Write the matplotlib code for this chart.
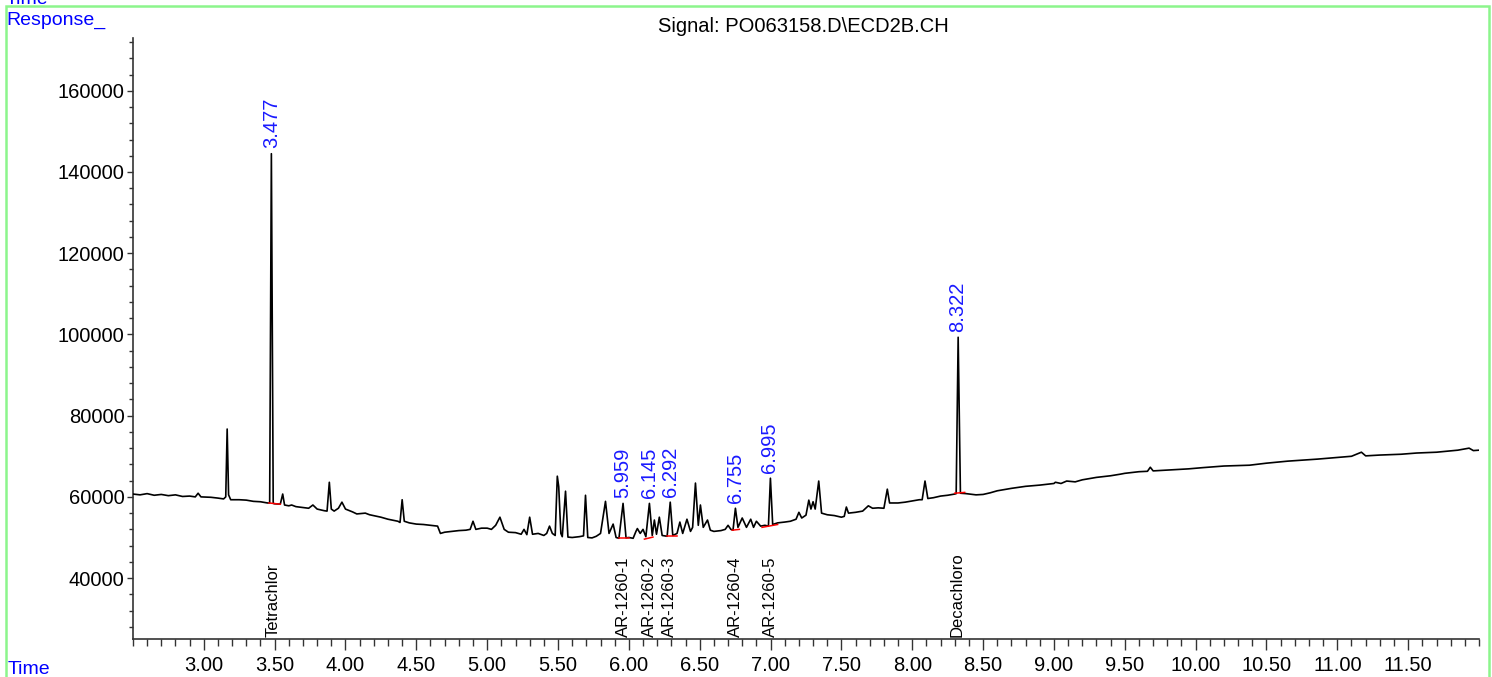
"""
Chromatogram: Signal PO063158.D\\ECD2B.CH with integrated peaks and compound labels.
"""
import matplotlib
matplotlib.use("Agg")
import matplotlib.pyplot as plt
from matplotlib.patches import Rectangle
from matplotlib.ticker import MultipleLocator, FormatStrFormatter
import matplotlib.transforms as mtransforms

plt.rcParams["font.family"] = ["Liberation Sans", "DejaVu Sans"]

# Trace vertices (time in min, response)
trace_time = [
    2.50, 2.55, 2.60, 2.65, 2.70, 2.75, 2.80, 2.85, 2.90, 2.94, 2.96, 2.98,
    3.05, 3.10, 3.14, 3.155, 3.165, 3.175, 3.19, 3.25, 3.30, 3.35, 3.40, 3.45,
    3.465, 3.477, 3.49, 3.50, 3.54, 3.557, 3.57, 3.60, 3.62, 3.65, 3.74, 3.77,
    3.80, 3.85, 3.87, 3.886, 3.90, 3.92, 3.95, 3.975, 4.00, 4.05, 4.08, 4.14,
    4.17, 4.25, 4.30, 4.37, 4.385, 4.40, 4.415, 4.45, 4.50, 4.55, 4.60, 4.65,
    4.67, 4.70, 4.75, 4.80, 4.85, 4.88, 4.90, 4.92, 4.96, 5.00, 5.03, 5.06,
    5.09, 5.12, 5.15, 5.20, 5.24, 5.26, 5.28, 5.30, 5.32, 5.36, 5.40, 5.42,
    5.44, 5.46, 5.48, 5.495, 5.505, 5.52, 5.53, 5.553, 5.57, 5.60, 5.65, 5.68,
    5.694, 5.71, 5.74, 5.77, 5.80, 5.835, 5.86, 5.889, 5.91, 5.93, 5.959, 5.98,
    6.00, 6.03, 6.05, 6.06, 6.08, 6.10, 6.12, 6.145, 6.165, 6.18, 6.195, 6.215,
    6.235, 6.27, 6.292, 6.31, 6.34, 6.36, 6.38, 6.41, 6.435, 6.45, 6.47, 6.49,
    6.505, 6.525, 6.555, 6.575, 6.60, 6.65, 6.68, 6.70, 6.72, 6.735, 6.752, 6.77,
    6.80, 6.83, 6.86, 6.88, 6.90, 6.93, 6.96, 6.985, 6.999, 7.015, 7.05, 7.10,
    7.14, 7.18, 7.20, 7.22, 7.25, 7.27, 7.285, 7.30, 7.315, 7.34, 7.36, 7.40,
    7.45, 7.50, 7.52, 7.535, 7.55, 7.60, 7.65, 7.69, 7.72, 7.76, 7.80, 7.824,
    7.84, 7.90, 7.95, 8.00, 8.05, 8.07, 8.09, 8.11, 8.15, 8.20, 8.25, 8.30,
    8.31, 8.324, 8.34, 8.38, 8.45, 8.50, 8.55, 8.60, 8.65, 8.70, 8.80, 8.90,
    9.00, 9.01, 9.05, 9.09, 9.15, 9.20, 9.30, 9.40, 9.47, 9.50, 9.60, 9.66,
    9.68, 9.70, 9.75, 9.85, 9.95, 10.05, 10.20, 10.38, 10.50, 10.65, 10.86, 11.00,
    11.10, 11.17, 11.20, 11.30, 11.45, 11.56, 11.70, 11.85, 11.93, 11.96, 12.00,
]
trace_resp = [
    60700, 60500, 60800, 60400, 60600, 60300, 60500, 60100, 60200, 60000, 60900, 60000,
    59900, 59700, 59500, 60000, 76700, 60500, 59300, 59300, 59200, 58900, 58800, 58500,
    58500, 144500, 58400, 58300, 58200, 60700, 58000, 57800, 58000, 57600, 57200, 58000,
    57000, 56600, 56500, 63600, 57000, 56500, 57200, 58700, 57000, 56300, 55800, 56000,
    55600, 55000, 54500, 54000, 53700, 59300, 54000, 53600, 53300, 53200, 53000, 52800,
    51000, 51300, 51500, 51700, 51800, 52000, 54000, 52000, 52300, 52300, 52000, 53000,
    55000, 52000, 51300, 51200, 50800, 52000, 50700, 55000, 50800, 51000, 50500, 51000,
    52800, 51000, 50500, 65100, 62500, 51000, 50200, 61400, 50100, 50000, 50200, 50400,
    60400, 50000, 49900, 50300, 51000, 58900, 51000, 53300, 50000, 49800, 58400, 49900,
    50000, 49800, 51500, 52200, 51000, 52000, 50200, 58400, 50500, 54300, 50800, 55000,
    50500, 50300, 58700, 50500, 51000, 53800, 51000, 54500, 51500, 52500, 63400, 53000,
    58000, 52500, 54300, 51800, 51500, 51700, 52000, 53000, 52000, 51800, 57200, 52500,
    54800, 52500, 54500, 52500, 54000, 52800, 53000, 52800, 64600, 53200, 53600, 53800,
    54000, 54500, 56200, 54800, 55500, 59200, 57000, 58800, 57000, 63900, 56000, 55600,
    55400, 55000, 55200, 57500, 56000, 56200, 56500, 57800, 57200, 57300, 57200, 61900,
    58500, 58500, 58700, 59000, 59300, 59300, 63900, 59600, 59800, 60200, 60400, 60700,
    60800, 99300, 60900, 60800, 60500, 60600, 61000, 61500, 61800, 62100, 62600, 62900,
    63300, 63600, 63300, 63900, 63700, 64200, 64800, 65200, 65600, 65800, 66200, 66300,
    67300, 66400, 66500, 66700, 66900, 67200, 67600, 67800, 68300, 68800, 69300, 69700,
    70000, 71000, 70100, 70300, 70500, 70800, 71000, 71500, 72000, 71400, 71500,
]

# Integrated peaks: retention time and apex response
peak_rt = [3.477, 5.959, 6.145, 6.292, 6.755, 6.995, 8.322]
peak_apex = [144500, 58400, 58400, 58700, 57200, 64600, 99300]
peak_labels = ["3.477", "5.959", "6.145", "6.292", "6.755", "6.995", "8.322"]

# Integration baselines (red): start/end time and response
int_t0 = [3.46, 5.93, 6.11, 6.27, 6.73, 6.94, 8.30]
int_t1 = [3.54, 6.00, 6.17, 6.34, 6.78, 7.05, 8.37]
int_y0 = [58500, 49800, 49600, 50300, 51800, 52500, 60900]
int_y1 = [58200, 49800, 50100, 50300, 52000, 53200, 61100]

# Compound names at expected retention times
compound_rt = [3.486, 5.96, 6.145, 6.29, 6.75, 7.0, 8.32]
compound_names = ["Tetrachlor", "AR-1260-1", "AR-1260-2", "AR-1260-3",
                  "AR-1260-4", "AR-1260-5", "Decachloro"]

fig = plt.figure(figsize=(14.92, 6.77), dpi=100)
ax = fig.add_axes([0.0891, 0.0561, 0.9022, 0.8878])

ax.plot(trace_time, trace_resp, color="black", lw=1.2, zorder=3)
for t0, t1, y0, y1 in zip(int_t0, int_t1, int_y0, int_y1):
    ax.plot([t0, t1], [y0, y1], color="red", lw=1.1, zorder=4)

for rt, apex, lab in zip(peak_rt, peak_apex, peak_labels):
    ax.annotate(lab, (rt, apex), xytext=(0, 4), textcoords="offset points",
                rotation=90, ha="center", va="bottom", color="#1a1aff",
                fontsize=14.5)

trans = mtransforms.blended_transform_factory(ax.transData, ax.transAxes)
for rt, name in zip(compound_rt, compound_names):
    ax.text(rt, 0.004, name, transform=trans, rotation=90, ha="center",
            va="bottom", fontsize=12, color="black")

ax.set_xlim(2.5, 12.0)
ax.set_ylim(25000, 173000)
ax.xaxis.set_major_locator(MultipleLocator(0.5))
ax.xaxis.set_minor_locator(MultipleLocator(0.1))
ax.xaxis.set_major_formatter(FormatStrFormatter("%.2f"))
ax.yaxis.set_major_locator(MultipleLocator(20000))
ax.yaxis.set_minor_locator(MultipleLocator(4000))
ax.set_xticks([t for t in ax.get_xticks() if 2.9 < t < 11.9])

for side in ("top", "right"):
    ax.spines[side].set_visible(False)
for side in ("left", "bottom"):
    ax.spines[side].set_color("#333333")
    ax.spines[side].set_linewidth(1.2)

ax.tick_params(axis="x", which="major", length=8, width=1, direction="out",
               labelsize=14.5, pad=4, colors="#333333", labelcolor="black")
ax.tick_params(axis="x", which="minor", length=5, width=1, colors="#333333")
ax.tick_params(axis="y", which="major", length=4, width=1, labelsize=14.5,
               pad=2, colors="#333333", labelcolor="black")
ax.tick_params(axis="y", which="minor", length=3, width=1, colors="#333333")

fig.text(803 / 1492, 1 - 27 / 677, "Signal: PO063158.D\\ECD2B.CH",
         ha="center", va="center", fontsize=14.5)
fig.text(6 / 1492, 1 - 20 / 677, "Response_", ha="left", va="center",
         fontsize=14, color="#0000ff")
fig.text(8 / 1492, 1 - 669 / 677, "Time", ha="left", va="center",
         fontsize=14, color="#0000ff")
# header label of the panel above, cut off by the page edge as in the reference
fig.text(6 / 1492, 1 - 4 / 677, "Time", ha="left", va="baseline",
         fontsize=14, color="#0000ff")

# light green frame of the report panel
fig.patches.append(Rectangle((6 / 1492, -0.01), 1483 / 1492, 1 - 6 / 677 + 0.01,
                             transform=fig.transFigure, fill=False,
                             edgecolor="#8cf58c", lw=1.8))

fig.savefig("out.png", dpi=100)
plt.close(fig)
